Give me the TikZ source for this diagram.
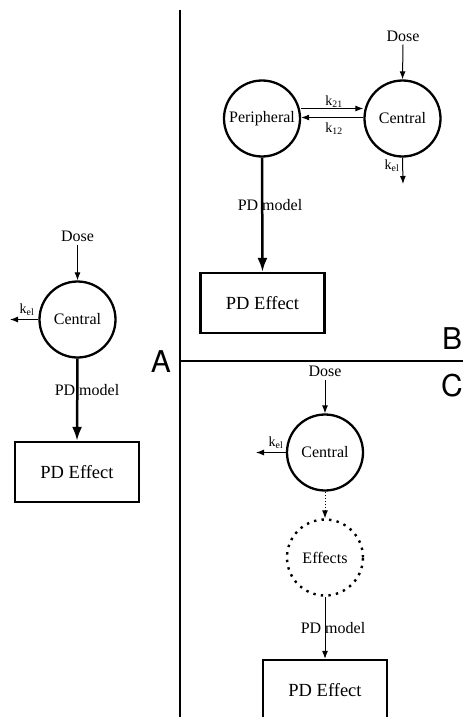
\documentclass[tikz,border=0pt]{standalone}
\usepackage{fontspec}
\setmainfont{Liberation Serif}
\newfontfamily\panelfont{TeX Gyre Heros}
\usetikzlibrary{arrows.meta}
\begin{document}
\begin{tikzpicture}[x=1pt,y=-1pt,
  comp/.style={circle,draw,line width=2.3pt,inner sep=0pt,minimum size=76pt,font=\fontsize{16}{17}\selectfont},
  effcomp/.style={comp,line width=2.4pt,dash pattern=on 2.4pt off 5.2pt},
  effbox/.style={rectangle,draw,line width=2.3pt,inner sep=0pt,minimum width=124pt,minimum height=60pt,font=\fontsize{18.5}{20}\selectfont},
  lbl/.style={inner sep=0pt,font=\fontsize{16}{17}\selectfont},
  klbl/.style={inner sep=0pt,font=\fontsize{14}{15}\selectfont},
  thin/.style={line width=1pt,-{Latex[length=8pt,width=6pt]}},
  thick/.style={line width=2.5pt,-{Latex[length=14pt,width=10pt]}},
  divider/.style={line width=2.3pt},
  panel/.style={inner sep=0pt,font=\panelfont\fontsize{30}{30}\selectfont}]
\useasboundingbox (0,0) rectangle (463,717);

% panel dividers
\coordinate (vtop) at (180,10);
\coordinate (vbot) at (180,717);
\coordinate (hleft) at (180,361);
\coordinate (hright) at (463,361);
\draw[divider] (vtop) -- (vbot);
\draw[divider] (hleft) -- (hright);
\node[panel] (lA) at (161,362) {A};
\node[panel] (lB) at (452,339) {B};
\node[panel] (lC) at (452,386) {C};

% panel A: one compartment
\node[comp] (aC) at (77.5,319.5) {Central};
\node[lbl] (aDose) at (77.5,236) {Dose};
\coordinate (aKel) at (10,319.5);
\node[effbox] (aE) at (77,472) {PD Effect};
\draw[thin] (aDose.south) ++(0,3) -- (aC.north);
\draw[thin] (aC.west) -- (aKel);
\node[klbl] at (27,310) {k\textsubscript{el}};
\draw[thick] (aC.south) -- (aE.north);
\node[lbl] at (87,390) {PD model};

% panel B: two compartments, effect from peripheral
\node[comp] (bP) at (262,118.5) {Peripheral};
\node[comp] (bC) at (402.5,118.5) {Central};
\node[lbl] (bDose) at (403,36) {Dose};
\coordinate (bKel) at (403,184);
\node[effbox] (bE) at (262.5,303) {PD Effect};
\draw[thin] (bDose.south) ++(0,3) -- (bC.north);
\draw[thin] ([yshift=10pt]bP.east) -- ([yshift=10pt]bC.west);
\draw[thin] ([yshift=1pt]bC.west) -- ([yshift=1pt]bP.east);
\node[klbl] at (334,102) {k\textsubscript{21}};
\node[klbl] at (334,129) {k\textsubscript{12}};
\draw[thin] (bC.south) -- (bKel);
\node[klbl] at (392,166) {k\textsubscript{el}};
\draw[thick] (bP.south) -- (bE.north);
\node[lbl] at (270,205) {PD model};

% panel C: effect compartment
\node[lbl] (cDose) at (325,371) {Dose};
\node[comp] (cC) at (325,452.5) {Central};
\coordinate (cKel) at (256,452.5);
\node[effcomp] (cF) at (325,557.5) {Effects};
\node[effbox] (cE) at (325,690) {PD Effect};
\draw[thin] (cDose.south) ++(0,3) -- (cC.north);
\draw[thin] (cC.west) -- (cKel);
\node[klbl] at (276,443) {k\textsubscript{el}};
\draw[thin,dotted] (cC.south) -- (cF.north);
\draw[thin] (cF.south) -- (cE.north);
\node[lbl] at (333,628) {PD model};
\end{tikzpicture}
\end{document}
